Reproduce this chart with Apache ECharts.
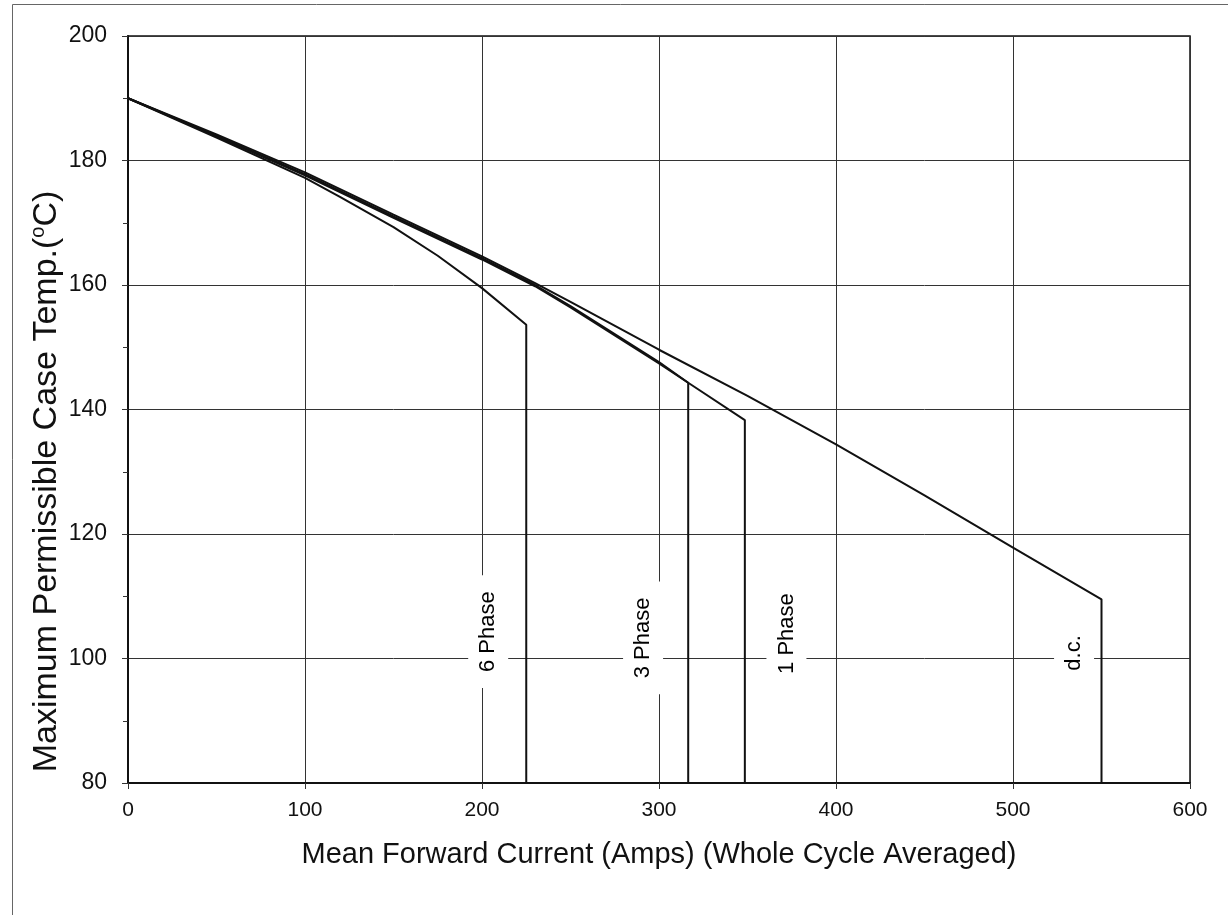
<!DOCTYPE html>
<html>
<head>
<meta charset="utf-8">
<script src="https://cdn.jsdelivr.net/npm/echarts@6/dist/echarts.min.js"></script>
<style>
html,body{margin:0;padding:0;background:#fff;}
#chart{width:1228px;height:915px;}
</style>
</head>
<body>
<div id="chart"></div>
<script>
// Data
var xTicks = [0, 100, 200, 300, 400, 500, 600];
var yTicks = [80, 100, 120, 140, 160, 180, 200];

var dcCurrent = [0, 50, 100, 150, 200, 230, 250, 300, 350, 400, 450, 500, 550, 550];
var dcTemp    = [190, 184.2, 178.1, 171.3, 164.6, 160.3, 157.3, 149.6, 142.2, 134.4, 126.2, 117.8, 109.5, 80];

var ph1Current = [0, 50, 100, 150, 200, 230, 250, 300, 316.5, 348.5, 348.5];
var ph1Temp    = [190, 184, 177.8, 171, 164.3, 160, 156.6, 147.6, 144.3, 138.3, 80];

var ph3Current = [0, 50, 100, 150, 200, 230, 250, 300, 316.5, 316.5];
var ph3Temp    = [190, 183.9, 177.6, 170.8, 164.1, 159.8, 156.4, 147.4, 144.3, 80];

var ph6Current = [0, 50, 100, 120, 150, 175, 200, 225, 225];
var ph6Temp    = [190, 183.7, 177.2, 174.1, 169.3, 164.7, 159.5, 153.6, 80];

var labelTexts   = ['6 Phase', '3 Phase', '1 Phase', 'd.c.'];
var labelCurrent = [203.5, 291, 372, 534.5];
var labelTemp    = [104.3, 103.3, 104, 100.9];

function pairs(xs, ys) { return xs.map(function (x, i) { return [x, ys[i]]; }); }

var lineStyle = { color: '#111', width: 2 };
function curve(name, xs, ys) {
  return { name: name, type: 'line', data: pairs(xs, ys), symbol: 'none', lineStyle: lineStyle, z: 3, animation: false };
}

var font = '"Liberation Sans", Arial, sans-serif';
var chart = echarts.init(document.getElementById('chart'), null, { renderer: 'canvas' });
chart.setOption({
  backgroundColor: '#fff',
  animation: false,
  graphic: [
    { type: 'line', shape: { x1: 12.5, y1: 4.5, x2: 1228, y2: 4.5 }, style: { stroke: '#666', lineWidth: 1 } },
    { type: 'line', shape: { x1: 12.5, y1: 4.5, x2: 12.5, y2: 915 }, style: { stroke: '#666', lineWidth: 1 } }
  ],
  grid: { left: 128, right: 38, top: 36, bottom: 132, show: true, borderColor: '#111', borderWidth: 1.5 },
  xAxis: {
    type: 'value', min: xTicks[0], max: xTicks[xTicks.length - 1], interval: 100,
    name: 'Mean Forward Current (Amps) (Whole Cycle Averaged)',
    nameLocation: 'middle', nameGap: 57, nameMoveOverlap: false,
    nameTextStyle: { fontFamily: font, fontSize: 29, color: '#111' },
    axisLine: { show: true, onZero: false, lineStyle: { color: '#111', width: 2 } },
    axisTick: { show: true, length: 6, lineStyle: { color: '#333' } },
    axisLabel: { fontFamily: font, fontSize: 21, color: '#111', margin: 17 },
    splitLine: { show: true, lineStyle: { color: '#333', width: 1 } }
  },
  yAxis: {
    type: 'value', min: yTicks[0], max: yTicks[yTicks.length - 1], interval: 20,
    name: 'Maximum Permissible Case Temp.({sup|o}C)',
    nameLocation: 'middle', nameGap: 62, nameMoveOverlap: false,
    nameTextStyle: {
      fontFamily: font, fontSize: 34, color: '#111', lineHeight: 38,
      padding: [0, 144, 0, 0],
      rich: { sup: { fontFamily: font, fontSize: 20, color: '#111', verticalAlign: 'top', lineHeight: 38, padding: [0, 0, 14, 0] } }
    },
    axisLine: { show: true, onZero: false, lineStyle: { color: '#111', width: 2 } },
    axisTick: { show: true, length: 6, lineStyle: { color: '#333' } },
    minorTick: { show: true, splitNumber: 2, length: 5, lineStyle: { color: '#333' } },
    axisLabel: { fontFamily: font, fontSize: 23, color: '#111', margin: 21 },
    splitLine: { show: true, lineStyle: { color: '#333', width: 1 } }
  },
  series: [
    curve('d.c.', dcCurrent, dcTemp),
    curve('1 Phase', ph1Current, ph1Temp),
    curve('3 Phase', ph3Current, ph3Temp),
    curve('6 Phase', ph6Current, ph6Temp),
    {
      type: 'scatter', symbol: 'rect', symbolSize: 1, z: 5, animation: false, silent: true,
      itemStyle: { color: '#fff', opacity: 1 },
      emphasis: { disabled: true },
      data: labelTexts.map(function (t, i) { return { value: [labelCurrent[i], labelTemp[i]], name: t }; }),
      label: {
        show: true, position: 'inside', rotate: 90, formatter: '{b}',
        fontFamily: font, fontSize: 22, color: '#000', opacity: 1,
        textBorderWidth: 0, textBorderColor: 'transparent', textShadowBlur: 0,
        backgroundColor: '#fff', padding: [9, 16, 9, 16]
      }
    }
  ]
});
</script>
</body>
</html>
